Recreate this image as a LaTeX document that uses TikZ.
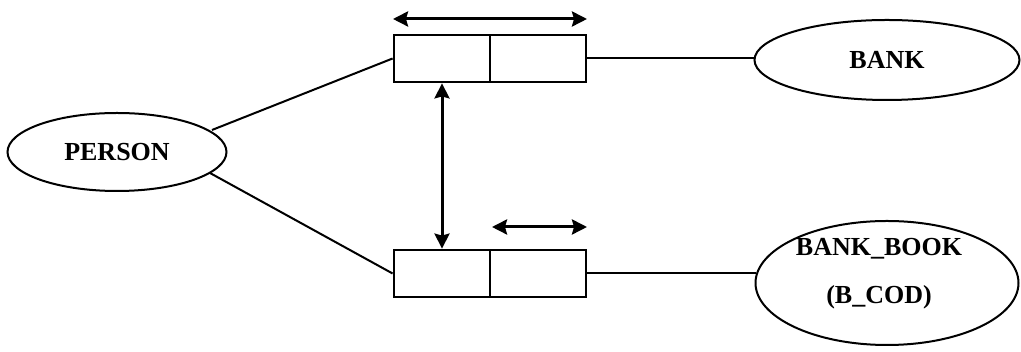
\documentclass[tikz,border=0pt]{standalone}
\usepackage{fontspec}
\setmainfont{Liberation Serif}
\usetikzlibrary{shapes.geometric,arrows.meta}
\begin{document}
\begin{tikzpicture}[x=1pt,y=1pt,
  entity/.style={draw,ellipse,line width=2pt,inner sep=0pt,
    font=\bfseries\fontsize{26}{48}\selectfont,align=center},
  cell/.style={draw,rectangle,line width=2.8pt,inner sep=0pt,
    minimum width=96pt,minimum height=47pt},
  link/.style={line width=2pt},
  dbl/.style={line width=3pt,{Stealth[length=15pt,width=15pt,inset=2pt]}-{Stealth[length=15pt,width=15pt,inset=2pt]}}
]
\useasboundingbox (0,0) rectangle (1021,352);
\fill[white] (0,0) rectangle (1021,352);

% entities
\node[entity,minimum width=219pt,minimum height=78pt] (person) at (117,200) {PERSON};
\node[entity,minimum width=265pt,minimum height=80pt] (bank) at (887,292) {BANK};
\node[entity,minimum width=263pt,minimum height=124pt] (book) at (887,69) {};
\node[font=\bfseries\fontsize{26}{48}\selectfont,align=center,inner sep=0pt] (booktext) at (879,78) {BANK\_BOOK\\(B\_COD)};

% two-cell records
\node[cell] (tl) at (442,293.5) {};
\node[cell] (tr) at (538,293.5) {};
\node[cell] (bl) at (442,78.5) {};
\node[cell] (br) at (538,78.5) {};

% connectors between entities and records
\coordinate (pa) at (212,222);
\coordinate (pb) at (210,179);
\draw[link] (pa) -- (tl.west);
\draw[link] (pb) -- (bl.west);
\draw[link] (tr.east) -- (tr.east -| bank.west);
\draw[link] (br.east) -- ([xshift=1.5pt]br.east -| book.west);

% pointer arrows
\coordinate (ta) at (393,333);
\coordinate (tb) at (587,333);
\draw[dbl] (ta) -- (tb);
\draw[dbl] (tl.south) -- (bl.north);
\coordinate (ba) at (492,125);
\coordinate (bb) at (587,125);
\draw[dbl] (ba) -- (bb);
\end{tikzpicture}
\end{document}
